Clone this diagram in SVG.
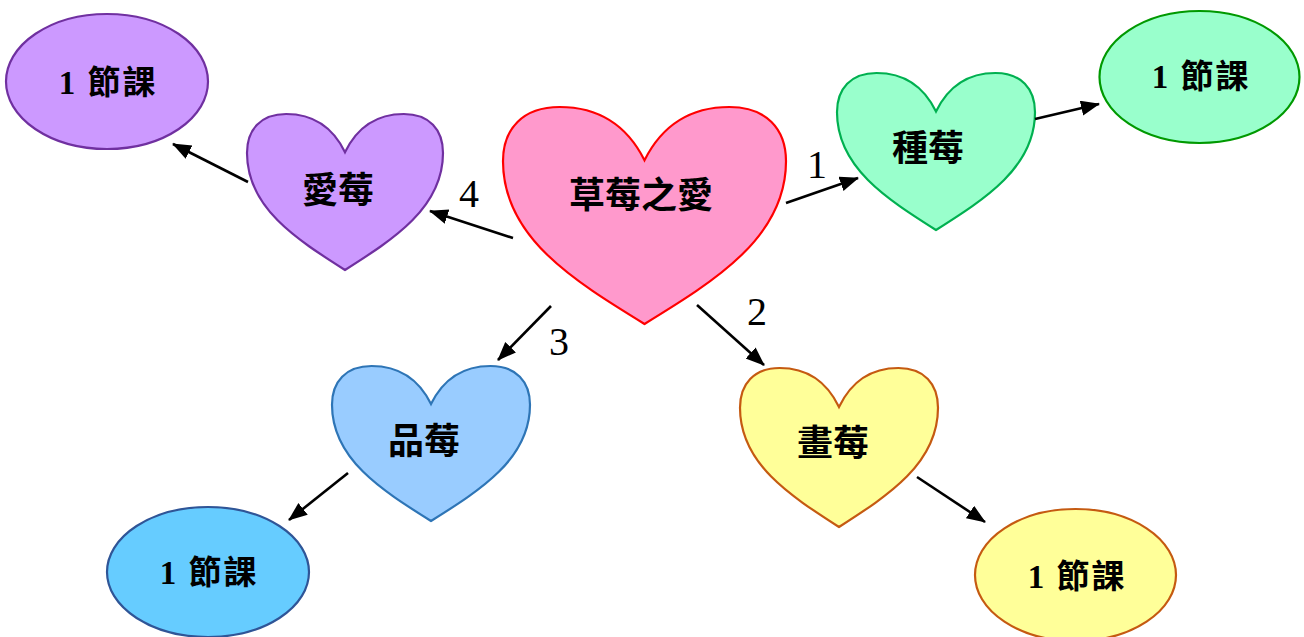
<svg xmlns="http://www.w3.org/2000/svg" width="1304" height="637" viewBox="0 0 1304 637">
<style>
.node{stroke-width:2.2}
.lbl{font-family:"Noto Sans CJK TC","Noto Sans CJK SC",sans-serif;font-weight:700;font-size:36px;fill:#000;text-anchor:middle;dominant-baseline:central}
.lesson{font-family:"Liberation Serif","Noto Sans CJK TC",serif;font-weight:700;font-size:33px;fill:#000;text-anchor:middle;dominant-baseline:central;letter-spacing:2px}
.num{font-family:"Liberation Serif",serif;font-size:40px;fill:#000;text-anchor:middle}
.conn line{stroke:#000;stroke-width:2.6;marker-end:url(#ah)}
</style>
<defs>
<marker id="ah" markerUnits="userSpaceOnUse" markerWidth="20" markerHeight="16" refX="18" refY="7.5" orient="auto" viewBox="0 0 20 16">
<path d="M0,0 L19,7.5 L0,15 Z" fill="#000"/>
</marker>
</defs>
<rect width="1304" height="637" fill="#fff"/>

<g id="center">
<path class="node" fill="#FF99CC" stroke="#FF0000" d="M644.5,160.2 C627.5,126.5 599.2,107 559.6,107 C522.8,107 503,128.7 503,161.25 C503,237.2 573.75,280.6 644.5,324 C715.25,280.6 786,237.2 786,161.25 C786,128.7 766.2,107 729.4,107 C689.8,107 661.5,126.5 644.5,160.2 Z"/>
<text class="lbl" x="641" y="192">草莓之愛</text>
</g>

<g id="plant">
<path class="node" fill="#99FFCC" stroke="#00B050" d="M936,111.5 C924.1,87.1 904.3,73 876.6,73 C850.9,73 837,88.7 837,112.25 C837,167.2 886.5,198.6 936,230 C985.5,198.6 1035,167.2 1035,112.25 C1035,88.7 1021.1,73 995.4,73 C967.7,73 947.9,87.1 936,111.5 Z"/>
<text class="lbl" x="928" y="145">種莓</text>
</g>

<g id="plant-lesson">
<ellipse class="node" cx="1199.5" cy="77" rx="100" ry="66" fill="#99FFCC" stroke="#009900"/>
<text class="lesson" x="1201" y="77">1 節課</text>
</g>

<g id="draw">
<path class="node" fill="#FFFF99" stroke="#C55A11" d="M839,407 C827.1,382.3 807.3,368 779.6,368 C753.9,368 740,383.9 740,407.75 C740,463.4 789.5,495.2 839,527 C888.5,495.2 938,463.4 938,407.75 C938,383.9 924.1,368 898.4,368 C870.7,368 850.9,382.3 839,407 Z"/>
<text class="lbl" x="833" y="440">畫莓</text>
</g>

<g id="draw-lesson">
<ellipse class="node" cx="1075.5" cy="575" rx="100.5" ry="66" fill="#FFFF99" stroke="#C55A11"/>
<text class="lesson" x="1077" y="577">1 節課</text>
</g>

<g id="taste">
<path class="node" fill="#99CCFF" stroke="#2E75B6" d="M431,404 C419.1,380 399.3,366 371.6,366 C345.9,366 332,381.5 332,404.75 C332,459 381.5,490 431,521 C480.5,490 530,459 530,404.75 C530,381.5 516.1,366 490.4,366 C462.7,366 442.9,380 431,404 Z"/>
<text class="lbl" x="424" y="438">品莓</text>
</g>

<g id="taste-lesson">
<ellipse class="node" cx="208" cy="572" rx="101" ry="65" fill="#66CCFF" stroke="#2F5597"/>
<text class="lesson" x="209" y="573">1 節課</text>
</g>

<g id="love">
<path class="node" fill="#CC99FF" stroke="#7030A0" d="M345,152.2 C333.2,128 313.6,114 286.2,114 C260.7,114 247,129.6 247,153 C247,207.6 296,238.8 345,270 C394,238.8 443,207.6 443,153 C443,129.6 429.3,114 403.8,114 C376.4,114 356.8,128 345,152.2 Z"/>
<text class="lbl" x="338" y="187">愛莓</text>
</g>

<g id="love-lesson">
<ellipse class="node" cx="107" cy="81.5" rx="101" ry="67.5" fill="#CC99FF" stroke="#7030A0"/>
<text class="lesson" x="108" y="83">1 節課</text>
</g>

<g id="connectors" class="conn">
<line x1="786" y1="203" x2="858" y2="178"/>
<line x1="697" y1="305" x2="764" y2="365"/>
<line x1="551" y1="306" x2="498" y2="360"/>
<line x1="513" y1="238" x2="430" y2="211"/>
<line x1="1035" y1="119" x2="1099" y2="104"/>
<line x1="917" y1="477" x2="985" y2="522"/>
<line x1="348" y1="473" x2="289" y2="520"/>
<line x1="248" y1="182" x2="173" y2="144"/>
</g>

<g id="connector-labels">
<text class="num" x="817" y="178">1</text>
<text class="num" x="757" y="325">2</text>
<text class="num" x="559" y="355">3</text>
<text class="num" x="469" y="207">4</text>
</g>
</svg>
